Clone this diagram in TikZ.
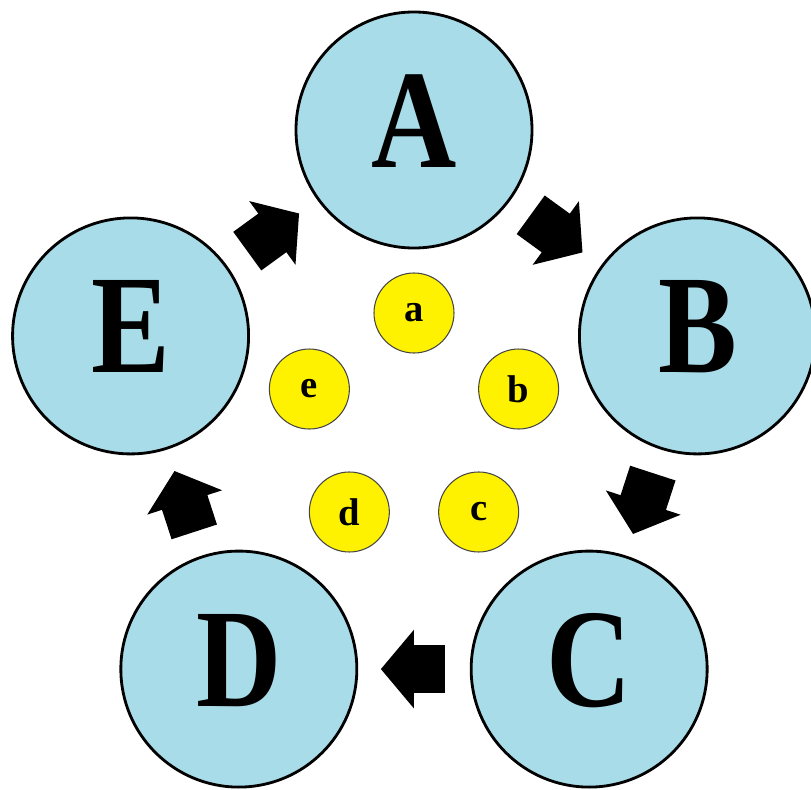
\documentclass[tikz,border=0pt]{standalone}
\usepackage{fontspec}
\setmainfont{Liberation Serif}
\newfontfamily\ballfont[FakeStretch=0.84]{Liberation Serif}
\usetikzlibrary{shapes.arrows}
\definecolor{dropblue}{RGB}{168,220,232}
\definecolor{ringgray}{RGB}{70,70,70}
\begin{document}
\begin{tikzpicture}[
    bigball/.style={circle, draw=black, line width=1.6pt, fill=dropblue, minimum size=4.72cm, inner sep=0pt,
      text depth=0.36cm, font=\ballfont\fontsize{80}{80}\selectfont\bfseries},
    smallball/.style={circle, draw=ringgray, line width=0.6pt, fill=yellow, minimum size=1.6cm, inner sep=0pt,
      font=\fontsize{22}{22}\selectfont\bfseries},
    blockarrow/.style={single arrow, fill=black, draw=none, inner xsep=0pt, inner ysep=0.47cm,
      minimum height=1.28cm, single arrow head extend=0.31cm, single arrow tip angle=100,
      sloped, allow upside down, pos=0.42}]
  \useasboundingbox (-8.28,-7.22) rectangle (7.94,8.56);

  % outer ring
  \foreach \name/\ang in {A/90, B/18, C/-54, D/-126, E/162}
    \node[bigball] (\name) at (\ang:5.96) {\name};

  % inner ring
  \begin{scope}[yshift=0.1cm]
    \foreach \name/\ang in {a/90, b/18, c/-54, d/-126, e/162}
      \node[smallball] (\name) at (\ang:2.2) {\name};
  \end{scope}

  % block arrows between the balls
  \foreach \from/\to in {A/B, B/C, C/D, D/E, E/A}
    \path (\from) -- node[blockarrow] (\from\to) {} (\to);
\end{tikzpicture}
\end{document}
